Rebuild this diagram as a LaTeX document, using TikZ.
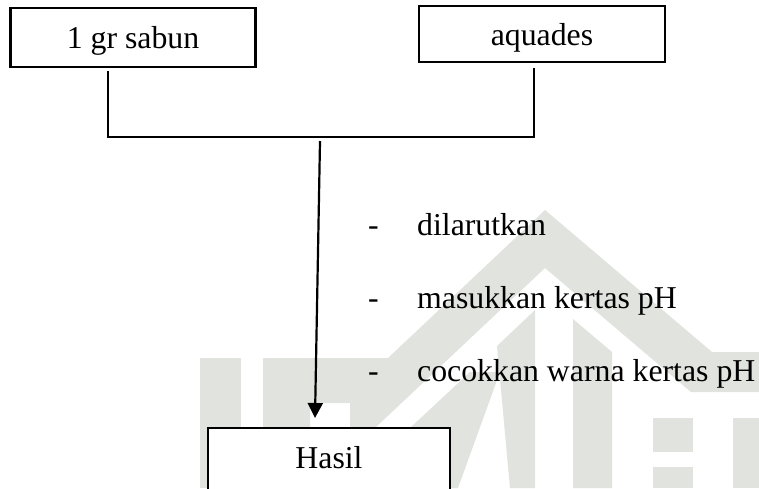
\documentclass[tikz,border=0pt]{standalone}
\usepackage{fontspec}
\setmainfont{Liberation Serif}
\usetikzlibrary{arrows.meta}
\definecolor{wmgrey}{RGB}{225,227,222}
\begin{document}
\begin{tikzpicture}[x=1pt,y=-1pt,
  every node/.style={font=\fontsize{31.8pt}{38pt}\selectfont, inner sep=0pt},
  box/.style={draw, line width=2.2pt, fill=white, text depth=7pt},
  wire/.style={line width=2.2pt},
  flow/.style={line width=2.2pt, -{Triangle[width=15pt,length=15pt]}},
  item/.style={anchor=base west},
  wmark/.style={fill=wmgrey}]
\useasboundingbox (0,0) rectangle (759,488);
\clip (0,0) rectangle (759,488);

% background emblem
\fill[wmark] (200,358) -- (241,358) -- (241,488) -- (200,488) -- cycle;
\fill[wmark] (263,358) -- (388,358) -- (545,210) -- (712,352) -- (759,352)
  -- (759,392) -- (691,392) -- (545,268) -- (376,427) -- (376,488)
  -- (350,488) -- (350,403) -- (310,403) -- (310,488) -- (263,488) -- cycle;
\fill[wmark] (411,427) -- (470,372) -- (500,372) -- (458,488) -- (400,488) -- cycle;
\fill[wmark] (497,346) -- (535,310) -- (535,488) -- (510,488) -- cycle;
\fill[wmark] (573,319) -- (612,352) -- (612,488) -- (573,488) -- cycle;
\fill[wmark] (653,418) rectangle (693,452);
\fill[wmark] (653,467) rectangle (693,488);
\fill[wmark] (733,418) rectangle (759,488);

% input boxes
\node[box, minimum width=245pt, minimum height=59pt, text height=28pt] (sabun) at (133,37.5) {1 gr sabun};
\node[box, minimum width=246pt, minimum height=56pt, text height=29pt] (aqua) at (542,34) {aquades};

% result box (runs past the lower edge)
\node[box, minimum width=242pt, minimum height=72pt, text height=15pt] (hasil) at (329,464) {Hasil};

% joining lines
\coordinate (j1) at (108,137);
\coordinate (j2) at (534,137);
\draw[wire] ([yshift=-3pt]sabun.south -| j1) -- (j1) -- (j2) -- ([yshift=-5pt]aqua.south -| j2);

% flow arrow
\coordinate (a0) at (320,141);
\coordinate (a1) at (315,418);
\draw[flow] (a0) -- (a1);

% steps
\node[item] (s1) at (368,235) {\makebox[49pt][l]{-}dilarutkan};
\node[item] (s2) at (368,308) {\makebox[49pt][l]{-}masukkan kertas pH};
\node[item] (s3) at (368,381) {\makebox[49pt][l]{-}cocokkan warna kertas pH};
\end{tikzpicture}
\end{document}
